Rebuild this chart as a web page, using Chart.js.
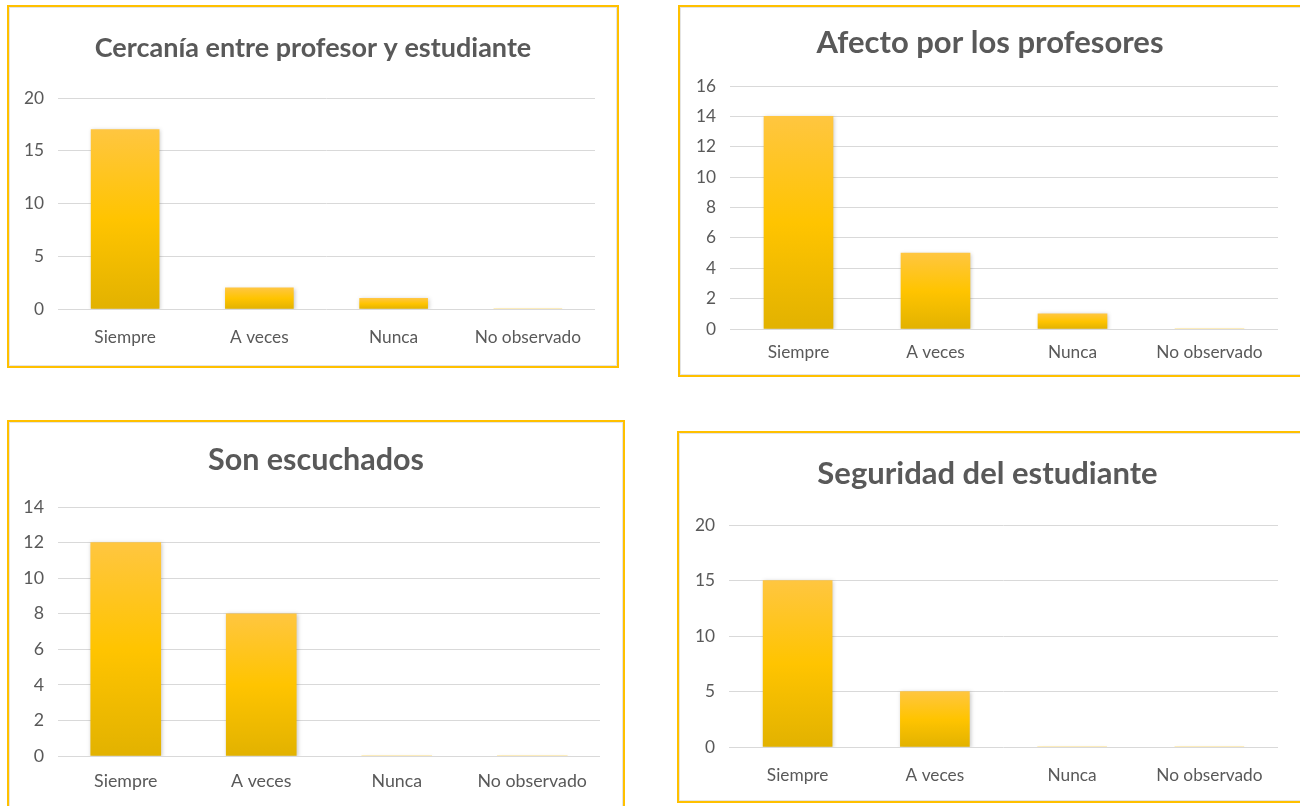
<!DOCTYPE html>
<html>
<head>
<meta charset="utf-8">
<script src="https://cdn.jsdelivr.net/npm/chart.js@4.4.1/dist/chart.umd.min.js"></script>
<style>
  html, body { margin: 0; padding: 0; background: #fff; width: 1300px; height: 806px; overflow: hidden; }
  .panel {
    position: absolute;
    border: 2px solid #FFC000;
    box-shadow: inset 0 0 0 1px #E4E4E4;
    background: #fff;
  }
  .panel canvas { display: block; }
</style>
</head>
<body>
<div class="panel" id="p1" style="left:7px; top:5px; width:608px; height:359px;"><canvas id="c1"></canvas></div>
<div class="panel" id="p2" style="left:678px; top:5px; width:640px; height:368px;"><canvas id="c2"></canvas></div>
<div class="panel" id="p3" style="left:7px; top:420px; width:614px; height:400px;"><canvas id="c3"></canvas></div>
<div class="panel" id="p4" style="left:677px; top:431px; width:640px; height:368px;"><canvas id="c4"></canvas></div>

<script>
// ---- data ----
const categories = ['Siempre', 'A veces', 'Nunca', 'No observado'];

const cercaniaValues   = [17, 2, 1, 0];
const afectoValues     = [14, 5, 1, 0];
const escuchadosValues = [12, 8, 0, 0];
const seguridadValues  = [15, 5, 0, 0];

const cercaniaTicks   = [0, 5, 10, 15, 20];
const afectoTicks     = [0, 2, 4, 6, 8, 10, 12, 14, 16];
const escuchadosTicks = [0, 2, 4, 6, 8, 10, 12, 14];
const seguridadTicks  = [0, 5, 10, 15, 20];

const TEXT_COLOR = '#595959';
const GRID_COLOR = '#D9D9D9';
const FONT = 'Lato, "Open Sans", sans-serif';

// soft shadow behind the bars, like the office style
const barShadow = {
    id: 'barShadow',
    beforeDatasetsDraw(chart) {
        const ctx = chart.ctx;
        ctx.save();
        ctx.shadowColor = 'rgba(0,0,0,0.22)';
        ctx.shadowBlur = 4;
        ctx.shadowOffsetX = 1;
        ctx.shadowOffsetY = 1;
    },
    afterDatasetsDraw(chart) {
        chart.ctx.restore();
    }
};

// per-bar vertical gradient (light top, deeper bottom)
function barGradient(context) {
    const chart = context.chart;
    const yScale = chart.scales.y;
    if (!chart.chartArea || !yScale) return '#FFC000';
    const v = context.dataset.data[context.dataIndex];
    const top = yScale.getPixelForValue(v);
    const bottom = yScale.getPixelForValue(0);
    if (bottom - top < 1) return '#FFC000';
    const g = chart.ctx.createLinearGradient(0, top, 0, bottom);
    g.addColorStop(0, '#FFC640');
    g.addColorStop(0.5, '#FFC400');
    g.addColorStop(1, '#E2B200');
    return g;
}

// box: positions relative to the canvas (px)
function makeChart(canvasId, title, values, ticks, box) {
    const canvas = document.getElementById(canvasId);
    const parent = canvas.parentElement;
    // canvas width picked so the centred title lands where it does in the picture
    const w = box.canvasW || parent.clientWidth;
    const h = parent.clientHeight;
    canvas.width = w;
    canvas.height = h;
    canvas.style.width = w + 'px';
    canvas.style.height = h + 'px';

    const titleLH = box.titleSize * 1.2;
    const tickLH = box.tickSize * 1.2;
    const titleTop = box.titleCenter - titleLH / 2;
    const titleBottom = box.plotTop - box.titleCenter - titleLH / 2;
    const xPad = box.labelCenter - box.plotBottom - tickLH / 2;
    const xHeight = xPad + tickLH;
    const bottomPad = h - box.plotBottom - xHeight;

    return new Chart(canvas, {
        type: 'bar',
        data: {
            labels: categories,
            datasets: [{
                data: values,
                backgroundColor: barGradient,
                borderWidth: 0,
                barThickness: box.barWidth,
                categoryPercentage: 1
            }]
        },
        plugins: [barShadow],
        options: {
            responsive: false,
            animation: false,
            devicePixelRatio: 1,
            layout: {
                padding: { top: 0, left: 0, right: 0, bottom: bottomPad }
            },
            plugins: {
                legend: { display: false },
                tooltip: { enabled: false },
                title: {
                    display: true,
                    text: title,
                    color: TEXT_COLOR,
                    font: { family: FONT, size: box.titleSize, weight: 'bold', lineHeight: 1.2 },
                    padding: { top: titleTop, bottom: titleBottom }
                }
            },
            scales: {
                x: {
                    afterFit: (scale) => { scale.height = xHeight; },
                    grid: { display: false, drawTicks: false },
                    border: { display: false },
                    ticks: {
                        color: TEXT_COLOR,
                        padding: xPad,
                        font: { family: FONT, size: box.tickSize, lineHeight: 1.2 }
                    }
                },
                y: {
                    min: ticks[0],
                    max: ticks[ticks.length - 1],
                    afterFit: (scale) => { scale.width = box.plotLeft; },
                    afterBuildTicks: (scale) => { scale.ticks = ticks.map(v => ({ value: v })); },
                    grid: { color: GRID_COLOR, lineWidth: 1, drawTicks: false },
                    border: { display: false },
                    ticks: {
                        color: TEXT_COLOR,
                        padding: 14,
                        font: { family: FONT, size: box.tickSize, lineHeight: 1.2 }
                    }
                },
                // empty right-hand axis, only holds the space right of the plot
                yRight: {
                    position: 'right',
                    afterFit: (scale) => { scale.width = w - box.plotRight; },
                    grid: { display: false, drawTicks: false },
                    border: { display: false },
                    ticks: { display: false }
                }
            }
        }
    });
}

makeChart('c1', 'Cercanía entre profesor y estudiante', cercaniaValues, cercaniaTicks,
    { titleCenter: 41, plotTop: 91, plotBottom: 302, labelCenter: 330, plotLeft: 49, plotRight: 586,
      barWidth: 68, titleSize: 27, tickSize: 17.3 });

makeChart('c2', 'Afecto por los profesores', afectoValues, afectoTicks,
    { titleCenter: 36, plotTop: 79, plotBottom: 322, labelCenter: 345, plotLeft: 50, plotRight: 598,
      barWidth: 69, titleSize: 31, tickSize: 17.3, canvasW: 620 });

makeChart('c3', 'Son escuchados', escuchadosValues, escuchadosTicks,
    { titleCenter: 38, plotTop: 85, plotBottom: 334, labelCenter: 359, plotLeft: 49, plotRight: 591,
      barWidth: 70, titleSize: 30.5, tickSize: 17.8 });

makeChart('c4', 'Seguridad del estudiante', seguridadValues, seguridadTicks,
    { titleCenter: 41, plotTop: 92, plotBottom: 314, labelCenter: 342, plotLeft: 50, plotRight: 599,
      barWidth: 69, titleSize: 31, tickSize: 17.3, canvasW: 617 });
</script>
</body>
</html>
